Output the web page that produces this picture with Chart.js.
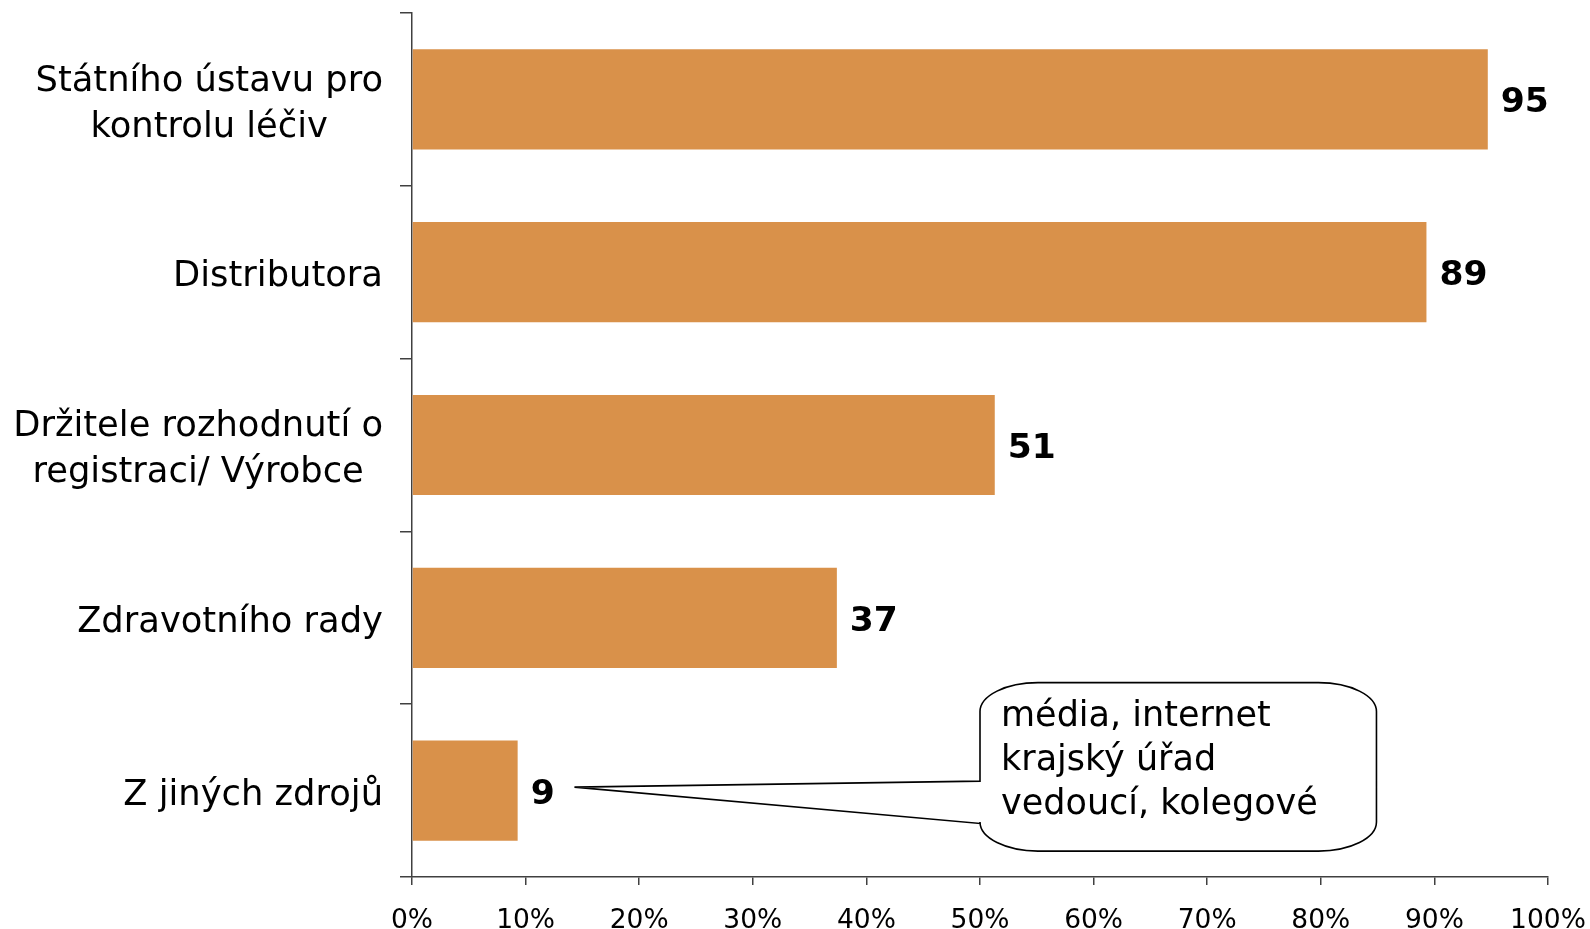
<!DOCTYPE html>
<html lang="cs">
<head>
<meta charset="utf-8">
<title>Zdroje informací</title>
<script src="https://cdn.jsdelivr.net/npm/chart.js@4.4.1/dist/chart.umd.min.js"></script>
<style>
    html, body { margin: 0; padding: 0; background: #fff; }
    #wrap { position: relative; width: 1590px; height: 929px; }
</style>
</head>
<body>
<div id="wrap"><canvas id="sourcesChart"></canvas></div>
<script>
// Data
const categories = [
    ['Státního ústavu pro', 'kontrolu léčiv'],
    ['Distributora'],
    ['Držitele rozhodnutí o', 'registraci/ Výrobce'],
    ['Zdravotního rady'],
    ['Z jiných zdrojů']
];
const percentValues = [94.7, 89.3, 51.3, 37.4, 9.3];
const valueLabels = ['95', '89', '51', '37', '9'];
const xTicks = [0, 10, 20, 30, 40, 50, 60, 70, 80, 90, 100];
const calloutLines = ['média, internet', 'krajský úřad', 'vedoucí, kolegové'];

const FONT = "'DejaVu Sans', Verdana, sans-serif";
const AXIS_COLOR = '#404040';

// Category labels: right-aligned block, lines centred inside it
const categoryLabelsPlugin = {
    id: 'categoryLabels',
    afterDraw(chart) {
        const ctx = chart.ctx;
        const yScale = chart.scales.y;
        const right = chart.chartArea.left - 12 - 17;
        const lineGap = 46;
        ctx.save();
        ctx.font = `35.3px ${FONT}`;
        ctx.fillStyle = '#000';
        ctx.textBaseline = 'middle';
        ctx.textAlign = 'center';
        categories.forEach((lines, i) => {
            const blockWidth = Math.max(...lines.map(l => ctx.measureText(l).width));
            const cx = right - blockWidth / 2;
            const cy = yScale.getPixelForTick(i) + 5;
            lines.forEach((line, j) => {
                ctx.fillText(line, cx, cy + (j - (lines.length - 1) / 2) * lineGap);
            });
        });
        ctx.restore();
    }
};

// Value labels to the right of each bar
const valueLabelsPlugin = {
    id: 'valueLabels',
    afterDatasetsDraw(chart) {
        const ctx = chart.ctx;
        const meta = chart.getDatasetMeta(0);
        ctx.save();
        ctx.font = `bold 34.5px ${FONT}`;
        ctx.fillStyle = '#000';
        ctx.textBaseline = 'middle';
        ctx.textAlign = 'left';
        meta.data.forEach((bar, i) => {
            ctx.fillText(valueLabels[i], bar.x + 13, bar.y + 4);
        });
        ctx.restore();
    }
};

// Speech bubble pointing at the last bar
const calloutPlugin = {
    id: 'callout',
    afterDraw(chart) {
        const ctx = chart.ctx;
        const x = chart.scales.x;
        const y = chart.scales.y;
        const left = x.getPixelForValue(50);
        const right = x.getPixelForValue(84.9);
        const top = y.getPixelForValue(4 - 0.625);
        const bottom = y.getPixelForValue(4 + 0.35);
        const tipX = x.getPixelForValue(14.3);
        const tipY = y.getPixelForValue(4 - 0.02);
        const joinTop = y.getPixelForValue(4 - 0.055);
        const joinBottom = y.getPixelForValue(4 + 0.19);
        const rx = 58, ry = 29;

        ctx.save();
        ctx.beginPath();
        ctx.moveTo(left + rx, top);
        ctx.lineTo(right - rx, top);
        ctx.ellipse(right - rx, top + ry, rx, ry, 0, -Math.PI / 2, 0);
        ctx.lineTo(right, bottom - ry);
        ctx.ellipse(right - rx, bottom - ry, rx, ry, 0, 0, Math.PI / 2);
        ctx.lineTo(left + rx, bottom);
        ctx.ellipse(left + rx, bottom - ry, rx, ry, 0, Math.PI / 2, Math.PI);
        ctx.lineTo(left, joinBottom);
        ctx.lineTo(tipX, tipY);
        ctx.lineTo(left, joinTop);
        ctx.lineTo(left, top + ry);
        ctx.ellipse(left + rx, top + ry, rx, ry, 0, Math.PI, Math.PI * 1.5);
        ctx.closePath();
        ctx.fillStyle = '#fff';
        ctx.fill();
        ctx.lineWidth = 1.6;
        ctx.strokeStyle = '#000';
        ctx.stroke();

        ctx.font = `35px ${FONT}`;
        ctx.fillStyle = '#000';
        ctx.textAlign = 'left';
        ctx.textBaseline = 'alphabetic';
        calloutLines.forEach((line, i) => {
            ctx.fillText(line, left + 21, top + 43 + i * 44);
        });
        ctx.restore();
    }
};

const ctx = document.getElementById('sourcesChart').getContext('2d');
new Chart(ctx, {
    type: 'bar',
    data: {
        labels: categories,
        datasets: [{
            data: percentValues,
            backgroundColor: '#D9914A',
            borderWidth: 0,
            barPercentage: 0.58,
            categoryPercentage: 1
        }]
    },
    options: {
        indexAxis: 'y',
        responsive: true,
        maintainAspectRatio: false,
        animation: false,
        layout: { padding: { top: 13, right: 42, left: 0, bottom: 0 } },
        plugins: {
            legend: { display: false },
            tooltip: { enabled: false }
        },
        scales: {
            x: {
                type: 'linear',
                min: 0,
                max: 100,
                afterBuildTicks: scale => { scale.ticks = xTicks.map(v => ({ value: v })); },
                afterFit: scale => {
                    scale.height = 52;
                    // keep the plot edge fixed, the last label sits in the margin
                    scale.paddingLeft = 0;
                    scale.paddingRight = 0;
                },
                ticks: {
                    callback: v => v + '%',
                    font: { family: FONT, size: 26.5 },
                    color: '#000',
                    padding: 20,
                    maxRotation: 0,
                    autoSkip: false
                },
                grid: { drawOnChartArea: false, tickLength: 8, color: AXIS_COLOR, lineWidth: 1.5 },
                border: { color: AXIS_COLOR, width: 1.5 }
            },
            y: {
                type: 'category',
                afterFit: scale => { scale.width = 412; },
                ticks: { display: false },
                grid: { drawOnChartArea: false, offset: true, tickLength: 12, color: AXIS_COLOR, lineWidth: 1.5 },
                border: { color: AXIS_COLOR, width: 1.5 }
            }
        }
    },
    plugins: [categoryLabelsPlugin, valueLabelsPlugin, calloutPlugin]
});
</script>
</body>
</html>
